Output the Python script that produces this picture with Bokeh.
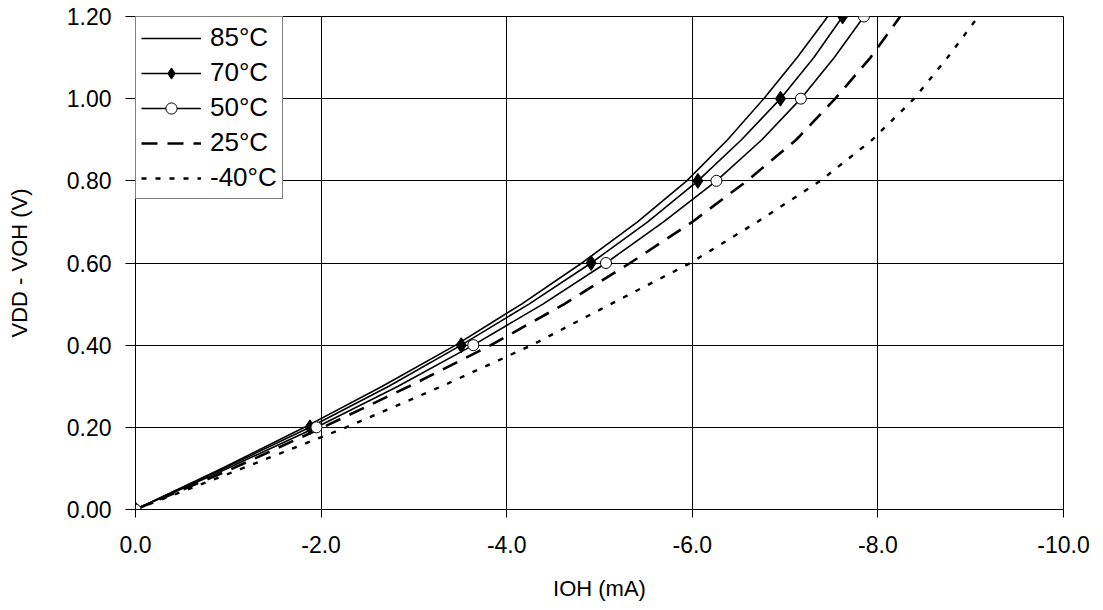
from bokeh.plotting import figure
from bokeh.models import Range1d, FixedTicker, NumeralTickFormatter, Legend, LegendItem
from bokeh.embed import file_html
from bokeh.resources import INLINE

# VDD - VOH (V)
volts = [0.0, 0.1, 0.2, 0.3, 0.4, 0.5, 0.6, 0.7, 0.8, 0.9, 1.0, 1.1, 1.2]
volts_m40 = [0.0, 0.1, 0.2, 0.3, 0.4, 0.5, 0.6, 0.7, 0.8, 0.9, 1.0, 1.1, 1.19]

# IOH (mA) per temperature
ioh_85 = [0.0, -0.93, -1.82, -2.66, -3.45, -4.16, -4.81, -5.41, -5.94, -6.38, -6.77, -7.13, -7.46]
ioh_70 = [0.0, -0.95, -1.88, -2.73, -3.51, -4.24, -4.91, -5.52, -6.06, -6.53, -6.95, -7.31, -7.62]
ioh_50 = [0.0, -0.99, -1.95, -2.83, -3.64, -4.39, -5.07, -5.69, -6.26, -6.75, -7.17, -7.53, -7.85]
ioh_25 = [0.0, -1.05, -2.02, -2.95, -3.83, -4.62, -5.33, -6.00, -6.59, -7.12, -7.54, -7.92, -8.24]
ioh_m40 = [0.0, -1.15, -2.27, -3.30, -4.27, -5.12, -5.98, -6.70, -7.38, -7.94, -8.39, -8.75, -9.05]

labels = ["85°C", "70°C", "50°C", "25°C", "-40°C"]
x_ticks = [0, -2, -4, -6, -8, -10]
y_ticks = [0.0, 0.2, 0.4, 0.6, 0.8, 1.0, 1.2]

FONT = "Liberation Sans"

p = figure(width=1103, height=610, output_backend="svg", toolbar_location=None,
           x_range=Range1d(0, -10), y_range=Range1d(0, 1.2),
           min_border_left=135, min_border_right=40, min_border_top=16, min_border_bottom=101)
p.outline_line_color = "black"
p.outline_line_width = 1
p.background_fill_color = "white"
p.border_fill_color = "white"

for ax in (p.xaxis[0], p.yaxis[0]):
    ax.axis_line_color = "black"
    ax.major_tick_line_color = "black"
    ax.minor_tick_line_color = None
    ax.major_tick_in = 0
    ax.major_label_text_font = FONT
    ax.major_label_text_font_size = "23px"
    ax.major_label_text_color = "black"
    ax.axis_label_text_font = FONT
    ax.axis_label_text_font_size = "22px"
    ax.axis_label_text_font_style = "normal"
    ax.axis_label_text_color = "black"

p.xaxis.ticker = FixedTicker(ticks=x_ticks)
p.yaxis.ticker = FixedTicker(ticks=y_ticks)
p.xaxis.formatter = NumeralTickFormatter(format="0.0")
p.yaxis.formatter = NumeralTickFormatter(format="0.00")
p.xaxis.major_tick_out = 8
p.yaxis.major_tick_out = 10
p.yaxis.major_label_standoff = 14
p.xaxis.major_label_standoff = 18
p.xaxis.axis_label = "IOH (mA)"
p.yaxis.axis_label = "VDD - VOH (V)"
p.xaxis.axis_label_standoff = 20
p.yaxis.axis_label_standoff = 32

p.xgrid.ticker = FixedTicker(ticks=x_ticks)
p.ygrid.ticker = FixedTicker(ticks=y_ticks)
p.grid.grid_line_color = "black"
p.grid.grid_line_width = 1

r85 = p.line(ioh_85, volts, line_color="black", line_width=1.6)
r70 = p.line(ioh_70, volts, line_color="black", line_width=1.6)
r50 = p.line(ioh_50, volts, line_color="black", line_width=1.6)
r25 = p.line(ioh_25, volts, line_color="black", line_width=2.6, line_dash="16 10")
rm40 = p.line(ioh_m40, volts_m40, line_color="black", line_width=2.4, line_dash="5 9")

mk70 = p.scatter(ioh_70[::2], volts[::2], marker="diamond", size=15,
                 fill_color="black", line_color="black")
mk50 = p.scatter(ioh_50[::2], volts[::2], marker="circle", size=11,
                 fill_color="white", line_color="black", line_width=1)

legend = Legend(items=[
    LegendItem(label=labels[0], renderers=[r85]),
    LegendItem(label=labels[1], renderers=[r70, mk70]),
    LegendItem(label=labels[2], renderers=[r50, mk50]),
    LegendItem(label=labels[3], renderers=[r25]),
    LegendItem(label=labels[4], renderers=[rm40]),
], location="top_left")
legend.margin = 0
legend.padding = 5
legend.spacing = 4
legend.glyph_width = 60
legend.glyph_height = 28
legend.label_height = 28
legend.label_standoff = 9
legend.label_text_font = FONT
legend.label_text_font_size = "26px"
legend.label_text_color = "black"
legend.label_text_baseline = "middle"
legend.border_line_color = "black"
legend.border_line_width = 1
legend.background_fill_color = "white"
legend.background_fill_alpha = 1.0
p.add_layout(legend)

open("out.html", "w").write(file_html(p, INLINE))
